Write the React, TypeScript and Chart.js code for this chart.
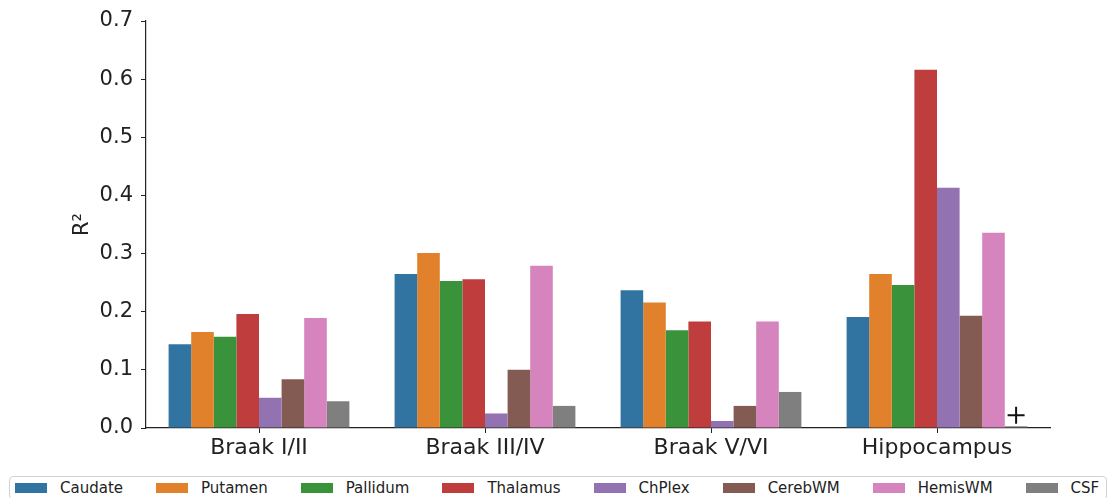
import React, { useEffect, useRef } from "react";
import { Chart, registerables } from "chart.js";

Chart.register(...registerables);

const categories = ["Braak I/II", "Braak III/IV", "Braak V/VI", "Hippocampus"];
const regions = ["Caudate", "Putamen", "Pallidum", "Thalamus", "ChPlex", "CerebWM", "HemisWM", "CSF"];
const colors = ["#3274a1", "#e1812c", "#3a923a", "#c03d3e", "#9372b2", "#845b53", "#d684bd", "#7f7f7f"];

const caudate = [0.144, 0.265, 0.237, 0.191];
const putamen = [0.165, 0.301, 0.216, 0.265];
const pallidum = [0.157, 0.253, 0.168, 0.246];
const thalamus = [0.196, 0.256, 0.183, 0.616];
const chplex = [0.052, 0.025, 0.012, 0.413];
const cerebwm = [0.084, 0.100, 0.038, 0.193];
const hemiswm = [0.189, 0.279, 0.183, 0.336];
const csf = [0.046, 0.038, 0.062, 0.003];

const seriesValues = [caudate, putamen, pallidum, thalamus, chplex, cerebwm, hemiswm, csf];
const yTicks = [0, 0.1, 0.2, 0.3, 0.4, 0.5, 0.6, 0.7];

const FONT = "'DejaVu Sans', sans-serif";

const crossPlugin = {
  id: "cursorCross",
  afterDatasetsDraw(chart: any) {
    const meta = chart.getDatasetMeta(7);
    const bar = meta.data[3];
    if (!bar) return;
    const ctx = chart.ctx;
    const y = chart.scales.y.getPixelForValue(0.022);
    const x = bar.x;
    ctx.save();
    ctx.strokeStyle = "#111";
    ctx.lineWidth = 2;
    ctx.beginPath();
    ctx.moveTo(x - 8.5, y);
    ctx.lineTo(x + 8.5, y);
    ctx.moveTo(x, y - 8.5);
    ctx.lineTo(x, y + 8.5);
    ctx.stroke();
    ctx.restore();
  },
};

export default function App() {
  const ref = useRef<HTMLCanvasElement>(null);

  useEffect(() => {
    if (!ref.current) return;
    const chart = new Chart(ref.current, {
      type: "bar",
      data: {
        labels: categories,
        datasets: regions.map((r, i) => ({
          label: r,
          data: seriesValues[i],
          backgroundColor: colors[i],
          borderWidth: 0,
          categoryPercentage: 0.8,
          barPercentage: 1.0,
        })),
      },
      options: {
        responsive: false,
        animation: false,
        layout: { padding: { left: 0, top: 21, right: 60, bottom: 0 } },
        plugins: {
          legend: { display: false },
          tooltip: { enabled: false },
        },
        scales: {
          x: {
            grid: { drawOnChartArea: false, offset: false, tickLength: 5, color: "#222" },
            border: { color: "#222", width: 1.2 },
            ticks: { font: { family: FONT, size: 22 }, color: "#222", padding: 2 },
            afterFit: (s: any) => {
              s.height = 42;
            },
          },
          y: {
            min: 0,
            max: 0.7,
            afterBuildTicks: (s: any) => {
              s.ticks = yTicks.map((v) => ({ value: v }));
            },
            grid: { drawOnChartArea: false, tickLength: 5, color: "#222" },
            border: { color: "#222", width: 1.2 },
            ticks: {
              font: { family: FONT, size: 21 },
              color: "#222",
              padding: 8,
              callback: (v: any) => Number(v).toFixed(1),
            },
            title: {
              display: true,
              text: "R²",
              font: { family: FONT, size: 21 },
              color: "#222",
              padding: { top: 70, bottom: 0 },
            },
            afterFit: (s: any) => {
              s.width = 146;
            },
          },
        },
      },
      plugins: [crossPlugin],
    });
    return () => chart.destroy();
  }, []);

  return (
    <div style={{ position: "fixed", left: 0, top: 0, width: 1110, height: 498, background: "#fff", overflow: "hidden" }}>
      <canvas ref={ref} width={1110} height={470} style={{ position: "absolute", left: 0, top: 0 }} />
      <div
        style={{
          position: "absolute",
          left: 9,
          top: 476,
          width: 1098,
          height: 24,
          boxSizing: "border-box",
          border: "1px solid #d3d3d3",
          borderRadius: 4,
          display: "flex",
          alignItems: "center",
          paddingLeft: 5,
          fontFamily: FONT,
          fontSize: 15,
          color: "#222",
        }}
      >
        {regions.map((r, i) => (
          <div key={r} style={{ display: "flex", alignItems: "center", marginRight: 33 }}>
            <span style={{ display: "inline-block", width: 32, height: 10, background: colors[i], marginRight: 13 }} />
            <span>{r}</span>
          </div>
        ))}
      </div>
    </div>
  );
}
